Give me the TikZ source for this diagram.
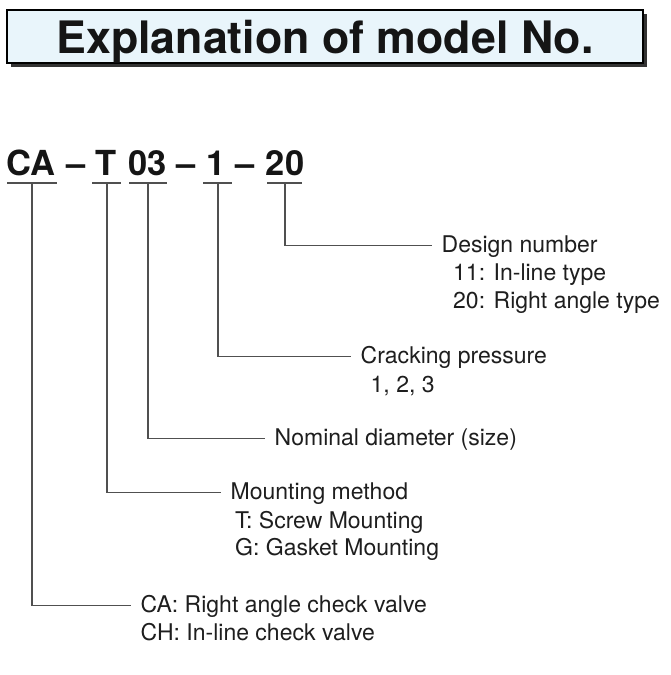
\documentclass[tikz,border=0pt]{standalone}
\usepackage{fontspec}
\setmainfont{TeX Gyre Heros}
\usetikzlibrary{shadows}
\definecolor{boxblue}{HTML}{E9F5FB}
\definecolor{linegray}{HTML}{505050}
\definecolor{textblack}{HTML}{151515}
\definecolor{textgray}{HTML}{1E1E1E}
\begin{document}
\begin{tikzpicture}[x=1pt,y=-1pt,
  titlebox/.style={draw=black, line width=1.5pt, fill=boxblue, minimum width=636pt, minimum height=53pt, inner sep=0pt,
    text height=33pt, text depth=0pt, font=\fontsize{44.7}{44.7}\selectfont\bfseries, text=textblack,
    drop shadow={shadow xshift=4pt, shadow yshift=-4pt, fill=black!80, opacity=1}},
  code/.style={font=\fontsize{34.5}{34.5}\selectfont\bfseries, text=textblack, inner sep=0pt, anchor=base},
  desc/.style={font=\fontsize{23}{23}\selectfont, text=textgray, inner sep=0pt, anchor=base west},
  uline/.style={draw=linegray, line width=2pt},
  conn/.style={draw=linegray, line width=1.4pt},
  tolabel/.style={xshift=-10pt, yshift=6.5pt}]
\useasboundingbox (0,0) rectangle (670,675);

% title
\node[titlebox] (title) at (325,36.5) {Explanation of model No.};

% model number
\node[code] (cCA) at (31,175) {CA};
\node[code] (dash1) at (76.5,175) {–};
\node[code] (cT) at (106,175) {T};
\node[code] (c03) at (147.5,175) {03};
\node[code] (dash2) at (186.5,175) {–};
\node[code] (c1) at (216,175) {1};
\node[code] (dash3) at (245,175) {–};
\node[code] (c20) at (285,175) {20};

% underlines
\coordinate (uCAl) at (7,183);   \coordinate (uCAr) at (57,183);
\coordinate (uTl) at (92,183);   \coordinate (uTr) at (121,183);
\coordinate (u03l) at (129,183); \coordinate (u03r) at (167,183);
\coordinate (u1l) at (203,183);  \coordinate (u1r) at (232,183);
\coordinate (u20l) at (267,183); \coordinate (u20r) at (302,183);
\draw[uline] (uCAl) -- (uCAr);
\draw[uline] (uTl) -- (uTr);
\draw[uline] (u03l) -- (u03r);
\draw[uline] (u1l) -- (u1r);
\draw[uline] (u20l) -- (u20r);

\coordinate (uCA) at (32,183);
\coordinate (uT) at (107,183);
\coordinate (u03) at (148,183);
\coordinate (u1) at (218,183);
\coordinate (u20) at (285,183);

% explanations
\node[desc] (dDesign) at (441.5,252) {Design number};
\node[desc] (dDes11) at (453,280) {11: In-line type};
\node[desc] (dDes20) at (453,308) {20: Right angle type};

\node[desc] (dCrack) at (360.5,363) {Cracking pressure};
\node[desc] (dCrackV) at (370.5,392) {1, 2, 3};

\node[desc] (dNom) at (274.5,445) {Nominal diameter (size)};

\node[desc] (dMount) at (230.5,499) {Mounting method};
\node[desc] (dMountT) at (235,528) {T: Screw Mounting};
\node[desc] (dMountG) at (235,555) {G: Gasket Mounting};

\node[desc] (dCA) at (140.5,612) {CA: Right angle check valve};
\node[desc] (dCH) at (140.5,640) {CH: In-line check valve};

% connectors
\draw[conn] (u20) |- ([tolabel]dDesign.base west);
\draw[conn] (u1) |- ([tolabel]dCrack.base west);
\draw[conn] (u03) |- ([tolabel]dNom.base west);
\draw[conn] (uT) |- ([tolabel]dMount.base west);
\draw[conn] (uCA) |- ([tolabel]dCA.base west);
\end{tikzpicture}
\end{document}
